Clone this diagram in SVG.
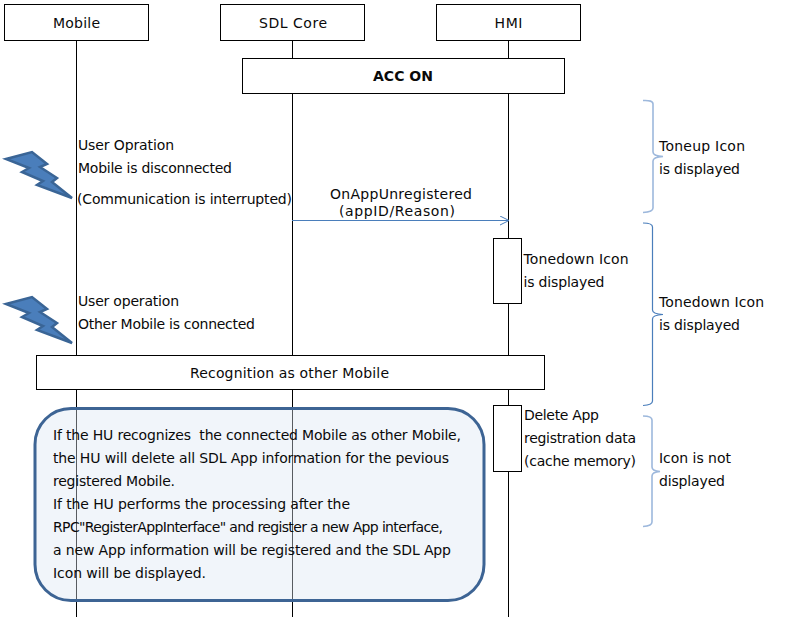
<svg xmlns="http://www.w3.org/2000/svg" width="801" height="621" viewBox="0 0 801 621">
<style>
text{font-family:"DejaVu Sans","Liberation Sans",sans-serif;font-size:14px;fill:#0a0a0a}
.c{text-anchor:middle}
.box{fill:#fff;stroke:#000;stroke-width:1}
.life{stroke:#000;stroke-width:1;fill:none}
.bolt{fill:#4a7ebb;stroke:#3a6596;stroke-width:2.500;stroke-linejoin:miter}
.br1{fill:none;stroke:#9db8dc;stroke-width:1.600}
.br2{fill:none;stroke:#4a7ebb;stroke-width:1.200}
</style>
<defs>
<marker id="arr" markerWidth="12" markerHeight="12" refX="10" refY="5" orient="auto" markerUnits="userSpaceOnUse"><path d="M1 0.500L10 5L1 9.500" fill="none" stroke="#4a7ebb" stroke-width="1"/></marker>
</defs>
<rect width="801" height="621" fill="#fff"/>
<g id="connectors">
<path class="life" d="M76.500 40V617M292.500 40V617M508.500 40V617"/>
<path d="M292 220.500H509" fill="none" stroke="#4a7ebb" stroke-width="1" marker-end="url(#arr)"/>
</g>
<g id="mobile"><rect class="box" x="4.500" y="4.500" width="144" height="36"/><text class="c" x="76.500" y="28" textLength="47">Mobile</text></g>
<g id="sdl-core"><rect class="box" x="220.500" y="4.500" width="144" height="36"/><text class="c" x="293" y="28" textLength="68">SDL Core</text></g>
<g id="hmi"><rect class="box" x="436.500" y="4.500" width="144" height="36"/><text class="c" x="508.500" y="28" textLength="28">HMI</text></g>
<g id="acc-on"><rect class="box" x="242.500" y="58.500" width="322" height="35"/><text class="c" x="403" y="81" style="font-weight:bold" textLength="60">ACC ON</text></g>
<g id="bolt-1"><path class="bolt" d="M6 159L32 152L47 164L40 167L57 178L52 182L72 198L37 185L43 181L22 172L29 168Z"/></g>
<g id="bolt-2"><path class="bolt" d="M6 304L32 297L47 309L40 312L57 323L52 327L72 343L37 330L43 326L22 317L29 313Z"/></g>
<g id="note-disconnect">
<text x="78" y="150" textLength="96">User Opration</text>
<text x="78" y="173" textLength="154">Mobile is disconnected</text>
<text x="77" y="204" textLength="215">(Communication is interrupted)</text>
</g>
<g id="msg-label">
<text class="c" x="401" y="199" textLength="142">OnAppUnregistered</text>
<text class="c" x="397" y="216" textLength="116">(appID/Reason)</text>
</g>
<g id="activation-1"><rect class="box" x="493.500" y="238.500" width="28" height="65"/></g>
<g id="note-tonedown"><text x="523.500" y="264" textLength="105">Tonedown Icon</text><text x="523.500" y="287" textLength="81">is displayed</text></g>
<g id="note-connect">
<text x="78" y="306" textLength="101">User operation</text>
<text x="78" y="329" textLength="177">Other Mobile is connected</text>
</g>
<g id="recognition"><rect class="box" x="36.500" y="355.500" width="508" height="34"/><text class="c" x="289.500" y="378" textLength="199">Recognition as other Mobile</text></g>
<g id="activation-2"><rect class="box" x="493.500" y="405.500" width="28" height="66"/></g>
<g id="note-delete"><text x="524" y="420" textLength="75">Delete App</text><text x="524" y="443" textLength="112">registration data</text><text x="524" y="466" textLength="112">(cache memory)</text></g>
<g id="note-box">
<rect x="35" y="408.500" width="449" height="192" rx="36" fill="#dce6f2" fill-opacity="0.4" stroke="#3d6494" stroke-width="3"/>
<text x="53" y="440" textLength="408" style="white-space:pre">If the HU recognizes  the connected Mobile as other Mobile,</text>
<text x="53" y="463" textLength="396">the HU will delete all SDL App information for the pevious</text>
<text x="53" y="486" textLength="122">registered Mobile.</text>
<text x="53" y="509" textLength="297">If the HU performs the processing after the</text>
<text x="53" y="532" textLength="390">RPC"RegisterAppInterface" and register a new App interface,</text>
<text x="53" y="555" textLength="398">a new App information will be registered and the SDL App</text>
<text x="53" y="578" textLength="153">Icon will be displayed.</text>
</g>
<g id="brace-toneup"><path class="br1" d="M643 100.500Q653 100 653 104V152Q653 156 663 156.500Q653 157 653 161V208Q653 212 643 212.500"/><text x="659" y="151" textLength="86">Toneup Icon</text><text x="659" y="174" textLength="81">is displayed</text></g>
<g id="brace-tonedown"><path class="br2" d="M643 223Q652.500 223 652.500 227V310Q652.500 314 663 314.500Q652.500 315 652.500 319V401Q652.500 405 643 405.500"/><text x="659" y="307" textLength="105">Tonedown Icon</text><text x="659" y="330" textLength="81">is displayed</text></g>
<g id="brace-none"><path class="br1" d="M643 416Q652 416 652 420V467Q652 471 660 471.500Q652 472 652 476V522Q652 526 643 526.500"/><text x="659" y="463" textLength="72">Icon is not</text><text x="659" y="486" textLength="66">displayed</text></g>
</svg>
